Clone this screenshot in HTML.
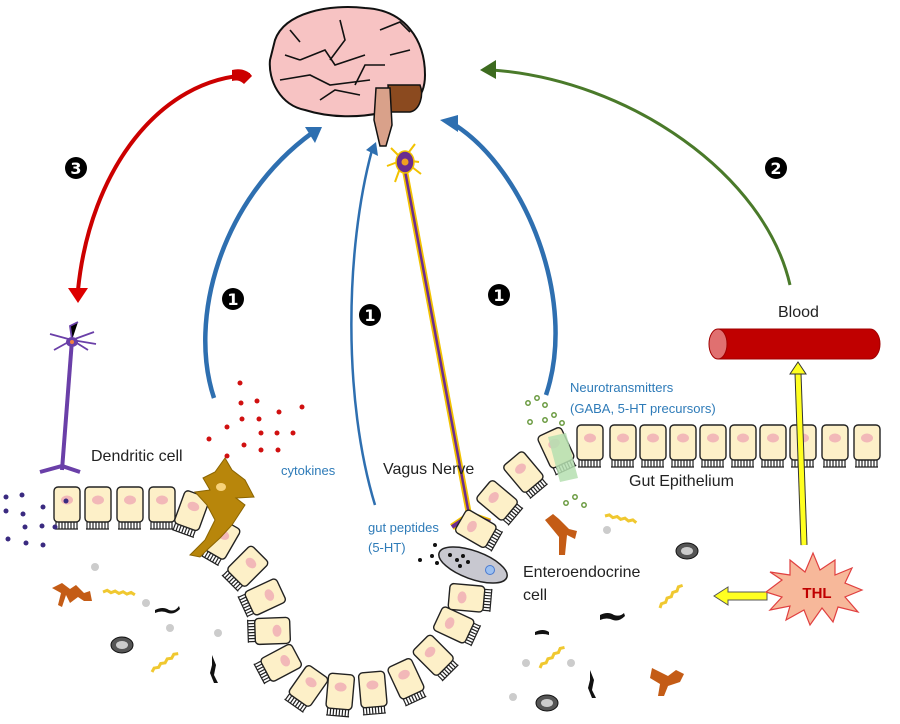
<!DOCTYPE html>
<html><head><meta charset="utf-8"><style>
html,body{margin:0;padding:0;background:#fff;}
svg{display:block;font-family:"Liberation Sans",sans-serif;}
</style></head><body>
<svg width="900" height="724" viewBox="0 0 900 724" xmlns="http://www.w3.org/2000/svg">
<defs>
<g id="c"><rect x="-13" y="-20" width="26" height="35" rx="4" fill="#fdf0c8" stroke="#222" stroke-width="1.4"/><ellipse cx="0" cy="-7" rx="6" ry="4.5" fill="#f2b8b8"/><path d="M-11,15v7M-8,15v7M-5,15v7M-2,15v7M1,15v7M4,15v7M7,15v7M10,15v7M-12,22h23" stroke="#222" stroke-width="1.2" fill="none"/></g>
<g id="bac"><path d="M0,0 l4,-2 l4,2 l4,-2 l4,2 l4,-2 l4,2 l4,-2 l4,2" stroke="#f0c830" stroke-width="3" fill="none"/></g>
<g id="ring"><ellipse cx="0" cy="0" rx="11" ry="8" fill="#555" stroke="#111" stroke-width="1"/><ellipse cx="0" cy="0" rx="6" ry="4" fill="#ccc"/></g>
</defs>

<!-- Brain -->
<path d="M275,40 C285,12 330,4 365,8 C405,10 425,40 425,75 C425,100 410,110 385,112 C360,118 330,118 305,110 C280,105 268,80 270,60 Z" fill="#f7c3c3" stroke="#111" stroke-width="2"/>
<path d="M290,30 l10,12 M300,60 l25,-10 l10,15 l30,-10 M340,20 l5,20 l-15,20 M380,30 l20,-8 l10,10 M390,55 l20,-5 M280,80 l30,-5 l20,10 l40,-5 M320,100 l15,-10 l25,5 M355,85 l10,-20 l20,0 M285,55 l15,5" stroke="#111" stroke-width="1.6" fill="none"/>
<path d="M388,85 L420,85 C424,95 420,110 410,112 L390,112 Z" fill="#8b4a1f" stroke="#111" stroke-width="1.5"/>
<path d="M376,88 L390,88 L392,125 L386,146 L380,146 L374,120 Z" fill="#d9a18a" stroke="#111" stroke-width="1.5"/>

<!-- Red arrow 3 -->
<path d="M250,75 C160,78 90,170 78,290" stroke="#c00" stroke-width="4" fill="none"/>
<path d="M68,288 L88,288 L78,303 Z" fill="#d00"/>
<path d="M232,70 C240,68 248,70 252,76 L244,84 C240,80 236,80 232,81 Z" fill="#c00"/>
<!-- Green arrow 2 -->
<path d="M790,285 C765,175 630,80 492,70" stroke="#4a7a2a" stroke-width="3" fill="none"/>
<path d="M496,60 L480,70 L496,79 Z" fill="#3d6b1f"/>
<!-- Blue arrows -->
<path d="M214,398 C188,320 220,200 312,133" stroke="#2e6fb0" stroke-width="4.5" fill="none"/>
<path d="M305,127 L322,127 L315,143 Z" fill="#2e6fb0"/>
<path d="M375,505 C343,400 345,250 372,150" stroke="#2e6fb0" stroke-width="2.5" fill="none"/>
<path d="M366,150 L376,142 L378,156 Z" fill="#2e6fb0"/>
<path d="M546,395 C578,300 525,170 455,125" stroke="#2e6fb0" stroke-width="4.5" fill="none"/>
<path d="M440,120 L458,115 L458,132 Z" fill="#2e6fb0"/>

<!-- labels numbers -->
<g font-family="DejaVu Sans,sans-serif" fill="#000">
<circle cx="76" cy="168" r="11"/><text x="76" y="174" font-size="16" fill="#fff" text-anchor="middle" font-weight="bold">3</text>
<circle cx="776" cy="168" r="11"/><text x="776" y="174" font-size="16" fill="#fff" text-anchor="middle" font-weight="bold">2</text>
<circle cx="233" cy="299" r="11"/><text x="233" y="305" font-size="16" fill="#fff" text-anchor="middle" font-weight="bold">1</text>
<circle cx="370" cy="315" r="11"/><text x="370" y="321" font-size="16" fill="#fff" text-anchor="middle" font-weight="bold">1</text>
<circle cx="499" cy="295" r="11"/><text x="499" y="301" font-size="16" fill="#fff" text-anchor="middle" font-weight="bold">1</text>
</g>

<!-- Vagus neuron -->
<path d="M403,160 L470,520" stroke="#f2c200" stroke-width="6"/>
<path d="M403,160 L470,520" stroke="#6a2c91" stroke-width="2.5"/>
<path d="M452,527 L470,515 L490,522" stroke="#f2c200" stroke-width="7" fill="none"/>
<path d="M452,527 L470,515 L490,522" stroke="#6a2c91" stroke-width="4" fill="none"/>
<g stroke="#f2c200" stroke-width="2"><path d="M403,160 l-16,6 M403,160 l12,-16 M403,160 l16,2 M403,160 l-8,22 M403,160 l-12,-12 M403,160 l18,14"/></g>
<ellipse cx="405" cy="162" rx="9" ry="11" fill="#6a2c91" stroke="#f2c200" stroke-width="1.5"/>
<circle cx="405" cy="162" r="3.5" fill="#f0a020"/>

<!-- Left neuron -->
<path d="M72,340 L62,470" stroke="#6a3fa8" stroke-width="4"/>
<path d="M40,472 L62,466 L80,472" stroke="#6a3fa8" stroke-width="4" fill="none"/>
<g stroke="#6a3fa8" stroke-width="1.8"><path d="M72,340 l-22,-6 M72,340 l-2,-14 l8,-4 M72,340 l22,-8 M72,340 l16,10 M72,340 l-18,10 M72,340 l24,4"/></g>
<ellipse cx="72" cy="342" rx="6" ry="5" fill="#6a3fa8"/><circle cx="72" cy="342" r="2" fill="#f08040"/>

<!-- Cells top-left row -->
<use href="#c" transform="translate(67,507)"/>
<use href="#c" transform="translate(98,507)"/>
<use href="#c" transform="translate(130,507)"/>
<use href="#c" transform="translate(162,507)"/>
<!-- curved -->
<use href="#c" transform="translate(191,513) rotate(20)"/>
<use href="#c" transform="translate(220,541) rotate(30)"/>
<use href="#c" transform="translate(246,568) rotate(45)"/>
<use href="#c" transform="translate(263,598) rotate(65)"/>
<use href="#c" transform="translate(270,631) rotate(88)"/>
<use href="#c" transform="translate(279,664) rotate(62)"/>
<use href="#c" transform="translate(307,688) rotate(35)"/>
<use href="#c" transform="translate(340,694) rotate(5)"/>
<use href="#c" transform="translate(373,692) rotate(-5)"/>
<use href="#c" transform="translate(407,681) rotate(-25)"/>
<use href="#c" transform="translate(435,657) rotate(-45)"/>
<use href="#c" transform="translate(456,626) rotate(-65)"/>
<use href="#c" transform="translate(469,598) rotate(-85)"/>
<use href="#c" transform="translate(478,530) rotate(-60)"/>
<use href="#c" transform="translate(499,502) rotate(-50)"/>
<use href="#c" transform="translate(525,474) rotate(-40)"/>
<use href="#c" transform="translate(557,450) rotate(-25)"/>
<!-- top-right row -->
<use href="#c" transform="translate(590,445)"/>
<use href="#c" transform="translate(623,445)"/>
<use href="#c" transform="translate(653,445)"/>
<use href="#c" transform="translate(683,445)"/>
<use href="#c" transform="translate(713,445)"/>
<use href="#c" transform="translate(743,445)"/>
<use href="#c" transform="translate(773,445)"/>
<use href="#c" transform="translate(803,445)"/>
<use href="#c" transform="translate(835,445)"/>
<use href="#c" transform="translate(867,445)"/>
<!-- green bar -->
<path d="M548,437 L566,433 L578,478 L560,482 Z" fill="#b5dfb0" opacity="0.85"/>

<!-- Enteroendocrine cell -->
<ellipse cx="473" cy="565" rx="36" ry="14" transform="rotate(20 473 565)" fill="#c8c8d0" stroke="#222" stroke-width="1.5"/>
<circle cx="490" cy="570" r="4.5" fill="#9cc0f0" stroke="#4a7ad0"/>
<g fill="#111"><circle cx="450" cy="555" r="2"/><circle cx="457" cy="560" r="2"/><circle cx="463" cy="556" r="2"/><circle cx="468" cy="562" r="2"/><circle cx="460" cy="566" r="2"/><circle cx="435" cy="545" r="2"/><circle cx="432" cy="556" r="2"/><circle cx="420" cy="560" r="2"/><circle cx="437" cy="563" r="2"/></g>

<!-- Dendritic cell -->
<path d="M225,458 L232,470 L245,480 L254,497 L236,498 L245,505 L232,525 L220,538 L207,550 L200,557 L190,555 L205,540 L215,520 L207,505 L195,492 L210,490 L203,478 L215,472 Z" fill="#b8860b" stroke="#8a6400" stroke-width="1"/>
<ellipse cx="221" cy="487" rx="5" ry="4" fill="#f7d27a"/>

<!-- dots -->
<g fill="#d01010">
<circle cx="240" cy="383" r="2.5"/><circle cx="241" cy="403" r="2.5"/><circle cx="257" cy="401" r="2.5"/><circle cx="242" cy="419" r="2.5"/><circle cx="259" cy="419" r="2.5"/><circle cx="279" cy="412" r="2.5"/><circle cx="302" cy="407" r="2.5"/><circle cx="227" cy="427" r="2.5"/><circle cx="261" cy="433" r="2.5"/><circle cx="277" cy="433" r="2.5"/><circle cx="293" cy="433" r="2.5"/><circle cx="209" cy="439" r="2.5"/><circle cx="244" cy="445" r="2.5"/><circle cx="261" cy="450" r="2.5"/><circle cx="278" cy="450" r="2.5"/><circle cx="227" cy="456" r="2.5"/>
</g>
<g fill="#3a2a80">
<circle cx="6" cy="497" r="2.5"/><circle cx="22" cy="495" r="2.5"/><circle cx="6" cy="511" r="2.5"/><circle cx="23" cy="514" r="2.5"/><circle cx="43" cy="507" r="2.5"/><circle cx="25" cy="527" r="2.5"/><circle cx="42" cy="526" r="2.5"/><circle cx="8" cy="539" r="2.5"/><circle cx="26" cy="543" r="2.5"/><circle cx="43" cy="545" r="2.5"/><circle cx="66" cy="501" r="2.5"/><circle cx="55" cy="527" r="2.5"/>
</g>
<g fill="none" stroke="#6a9a40" stroke-width="1.5">
<circle cx="528" cy="403" r="2.2"/><circle cx="537" cy="398" r="2.2"/><circle cx="545" cy="405" r="2.2"/><circle cx="530" cy="422" r="2.2"/><circle cx="545" cy="420" r="2.2"/><circle cx="554" cy="415" r="2.2"/><circle cx="562" cy="423" r="2.2"/><circle cx="566" cy="503" r="2.2"/><circle cx="575" cy="497" r="2.2"/><circle cx="584" cy="505" r="2.2"/>
</g>

<!-- bacteria/debris -->
<path d="M52,588 l10,-5 l8,6 l6,-4 l8,8 l6,-2 l2,10 l-8,0 l-6,-4 l-8,6 l-4,-8 l-4,12 l-4,-2 l3,-12 z" fill="#c45c16"/>
<path d="M545,520 l8,-6 l6,5 l10,10 l8,2 l-2,8 l-8,-4 l-2,20 l-6,0 l0,-18 z" fill="#c45c16"/>
<path d="M652,668 l16,8 l8,-6 l8,4 l-4,8 l-12,4 l-4,10 l-6,0 l2,-12 l-10,-6 z" fill="#c45c16"/>
<use href="#bac" transform="translate(103,592) rotate(5)"/>
<use href="#bac" transform="translate(152,672) rotate(-35)"/>
<use href="#bac" transform="translate(605,516) rotate(12)"/>
<use href="#bac" transform="translate(660,608) rotate(-45)"/>
<use href="#bac" transform="translate(540,668) rotate(-40)"/>
<use href="#ring" transform="translate(122,645)"/>
<use href="#ring" transform="translate(687,551)"/>
<use href="#ring" transform="translate(547,703)"/>
<g fill="#111"><path d="M155,610 q8,-4 14,0 q6,2 10,-4 l1,3 q-6,6 -12,4 q-6,-3 -13,0z"/><path d="M212,655 l4,10 l-2,10 l4,8 l-4,0 l-4,-10 l2,-8 z"/><path d="M600,615 q8,-4 14,0 q6,2 10,-2 l1,3 q-6,6 -12,4 q-6,-3 -13,0z"/><path d="M535,632 q8,-4 14,0 l0,3 q-6,-2 -14,0z"/><path d="M590,670 l4,10 l-2,10 l4,8 l-4,0 l-4,-10 l2,-8 z"/></g>
<g fill="#ccc"><circle cx="95" cy="567" r="4"/><circle cx="146" cy="603" r="4"/><circle cx="170" cy="628" r="4"/><circle cx="218" cy="633" r="4"/><circle cx="607" cy="530" r="4"/><circle cx="526" cy="663" r="4"/><circle cx="571" cy="663" r="4"/><circle cx="513" cy="697" r="4"/></g>

<!-- Blood -->
<path d="M718,329 L870,329 A10,15 0 0 1 870,359 L718,359 Z" fill="#c00000" stroke="#a00000"/>
<ellipse cx="718" cy="344" rx="9" ry="15" fill="#e07070" stroke="#a00000"/>
<text x="778" y="317" font-size="16" fill="#222">Blood</text>
<!-- yellow arrows -->
<path d="M804,545 L798,373" stroke="#333" stroke-width="7"/>
<path d="M804,545 L798,373" stroke="#ffff20" stroke-width="5"/>
<path d="M790,374 L798,362 L806,374 Z" fill="#ffff20" stroke="#333"/>
<path d="M767,592 L728,592 L728,587 L714,596 L728,605 L728,600 L767,600 Z" fill="#ffff20" stroke="#555"/>
<!-- THL -->
<path d="M782,580 L770,572 L790,575 L790,560 L805,572 L813,553 L820,570 L835,560 L835,575 L852,568 L845,583 L862,590 L845,597 L858,612 L838,607 L833,622 L822,608 L810,625 L804,610 L786,620 L790,606 L770,610 L782,597 L766,592 Z" fill="#f7b89a" stroke="#e04040" stroke-width="1.2"/>
<text x="817" y="598" font-size="15" font-weight="bold" fill="#c00000" text-anchor="middle">THL</text>

<!-- Text labels -->
<g font-size="16" fill="#222">
<text x="91" y="461">Dendritic cell</text>
<text x="383" y="474">Vagus Nerve</text>
<text x="629" y="486">Gut Epithelium</text>
<text x="523" y="577">Enteroendocrine</text>
<text x="523" y="600">cell</text>
</g>
<g font-size="13" fill="#2e7bb8">
<text x="281" y="475">cytokines</text>
<text x="570" y="392">Neurotransmitters</text>
<text x="570" y="413">(GABA, 5-HT precursors)</text>
<text x="368" y="532">gut peptides</text>
<text x="368" y="552">(5-HT)</text>
</g>
</svg>
</body></html>
